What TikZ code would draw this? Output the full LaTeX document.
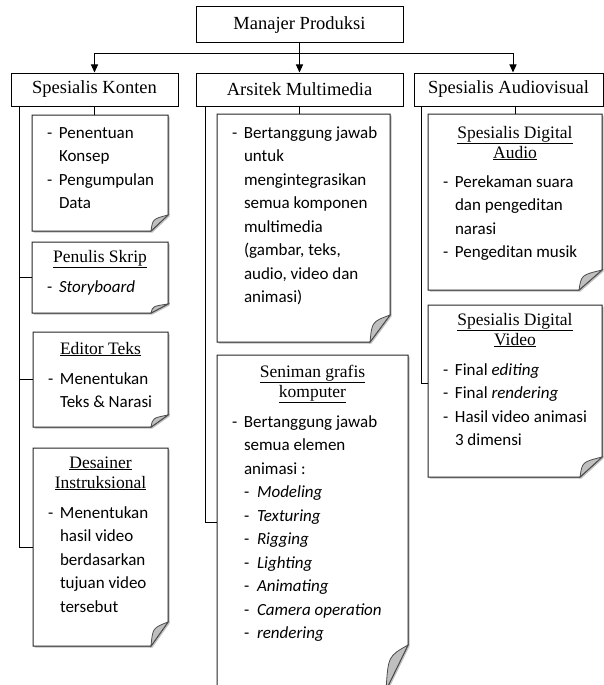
\documentclass[tikz,border=0pt]{standalone}
\usepackage{fontspec}
\setmainfont{Liberation Serif}
\newfontfamily\bodyfont{Carlito}
\usetikzlibrary{arrows.meta,backgrounds}

\newcommand{\bd}{\bodyfont\fontsize{17}{23.5}\selectfont}
\newcommand{\fst}[1]{\rule{0pt}{#1pt}}
\newcommand{\itm}[1]{\hspace*{15pt}\makebox[12pt][l]{-}#1\par}
\newcommand{\cnt}[1]{\hspace*{27pt}#1\par}
\newcommand{\sitm}[1]{\hspace*{27pt}\makebox[13pt][l]{-}#1\par}
\newcommand{\hd}[1]{{\fontsize{17.5}{20}\selectfont\centering #1\par}}
\newcommand{\pbox}[3]{\begin{minipage}[t][#2pt][t]{#1pt}#3\end{minipage}}

\begin{document}
\begin{tikzpicture}[x=1pt,y=-1pt,
    hbox/.style={draw, line width=1pt, inner sep=0pt, minimum height=33pt, font=\fontsize{18.5}{20}\selectfont},
    paper/.style={inner sep=0pt, outer sep=0pt, anchor=north west},
    conn/.style={line width=1pt},
    arr/.style={conn, -{Triangle[length=8pt,width=7pt]}},
    edge/.style={line width=1pt, draw=black!85, fill=white},
    fold/.style={line width=0.8pt, draw=black!70, fill=black!25}]
    \useasboundingbox (0,0) rectangle (604,685);

    % head and the three divisions
    \node[hbox, minimum width=207, minimum height=36] (mp) at (299.5,25) {Manajer Produksi};
    \node[hbox, minimum width=167] (kon) at (94.5,89.5) {Spesialis Konten};
    \node[hbox, minimum width=207] (ars) at (299.5,89.5) {Arsitek Multimedia};
    \node[hbox, minimum width=189] (avs) at (508.5,89.5) {Spesialis Audiovisual};

    \coordinate (bus) at (299.5,54);
    \draw[conn] (mp.south) -- (bus);
    \draw[arr] (bus) -| (kon.north);
    \draw[arr] (bus) -- (ars.north);
    \draw[arr] (bus) -| ([xshift=4.5]avs.north);

    % Spesialis Konten
    \node[paper] (kon1) at (32,115) {\pbox{136}{116}{\bd\itm{\fst{23}Penentuan}\cnt{Konsep}\itm{Pengumpulan}\cnt{Data}}};
    \node[paper] (pen) at (32,242) {\pbox{136}{71}{\hd{\fst{20}\underline{Penulis Skrip}}\vspace{6.5pt}\bd\itm{\textit{Storyboard}}}};
    \node[paper] (edt) at (33,332) {\pbox{135}{95}{\hd{\fst{22}\underline{Editor Teks}}\vspace{6.5pt}\bd\itm{Menentukan}\cnt{Teks \& Narasi}}};
    \node[paper] (des) at (33,448) {\pbox{135}{198}{\hd{\fst{20}\underline{Desainer}\\\underline{Instruksional}}\vspace{6.5pt}\bd
        \itm{Menentukan}\cnt{hasil video}\cnt{berdasarkan}\cnt{tujuan video}\cnt{tersebut}}};

    % Arsitek Multimedia
    \node[paper] (ars1) at (217,114) {\pbox{173}{228}{\bd\itm{\fst{24}Bertanggung jawab}\cnt{untuk}\cnt{mengintegrasikan}
        \cnt{semua komponen}\cnt{multimedia}\cnt{(gambar, teks,}\cnt{audio, video dan}\cnt{animasi)}}};
    \node[paper] (sen) at (217,355) {\pbox{191}{335}{\hd{\fst{22}\underline{Seniman grafis}\\\underline{komputer}}\vspace{6.5pt}\bd
        \itm{Bertanggung jawab}\cnt{semua elemen}\cnt{animasi :}
        \sitm{\textit{Modeling}}\sitm{\textit{Texturing}}\sitm{\textit{Rigging}}\sitm{\textit{Lighting}}
        \sitm{\textit{Animating}}\sitm{\textit{Camera operation}}\sitm{\textit{rendering}}}};

    % Spesialis Audiovisual
    \node[paper] (aud1) at (428,114) {\pbox{174}{176}{\hd{\fst{24}\underline{Spesialis Digital}\\\underline{Audio}}\vspace{5.5pt}\bd
        \itm{Perekaman suara}\cnt{dan pengeditan}\cnt{narasi}\itm{Pengeditan musik}}};
    \node[paper] (vid1) at (428,305) {\pbox{174}{172}{\hd{\fst{20}\underline{Spesialis Digital}\\\underline{Video}}\vspace{6.5pt}\bd
        \itm{Final \textit{editing}}\itm{Final \textit{rendering}}\itm{Hasil video animasi}\cnt{3 dimensi}}};

    % connectors below the divisions
    \draw[conn] (kon.south) -- (kon.south |- kon1.north);
    \coordinate (ksp) at ([xshift=9]kon.south west);
    \draw[conn] (ksp) |- (des.west);
    \draw[conn] (ksp |- pen.west) -- (pen.west);
    \draw[conn] (ksp |- edt.west) -- (edt.west);

    \draw[conn] (ars.south) -- (ars.south |- ars1.north);
    \coordinate (asp) at ([xshift=9.5]ars.south west);
    \draw[conn] (asp) |- (sen.west);

    \draw[conn] (aud1.north |- avs.south) -- (aud1.north);
    \coordinate (vsp) at ([xshift=8]avs.south west);
    \draw[conn] (vsp) |- ([yshift=8]vid1.west);

    % paper sheets with folded corner
    \begin{pgfonlayer}{background}
    \foreach \n/\fw/\fh in {kon1/17/16, pen/17/9, edt/17/12, des/17/24, ars1/20/27, sen/22/45, aud1/23/20, vid1/22/20}{
        \fill[black!25, transform canvas={shift={(1.5pt,-1.5pt)}}] (\n.north west) -- (\n.north east) -- ([yshift=\fh]\n.south east)
            -- ([xshift=-\fw]\n.south east) -- (\n.south west) -- cycle;
        \filldraw[edge] (\n.north west) -- (\n.north east) -- ([yshift=\fh]\n.south east)
            -- ([xshift=-\fw]\n.south east) -- (\n.south west) -- cycle;
        \filldraw[fold] ([yshift=\fh]\n.south east) .. controls ([xshift={-0.9*\fw},yshift={0.75*\fh}]\n.south east)
            .. ([xshift=-\fw]\n.south east) -- cycle;
    }
    \end{pgfonlayer}
\end{tikzpicture}
\end{document}
